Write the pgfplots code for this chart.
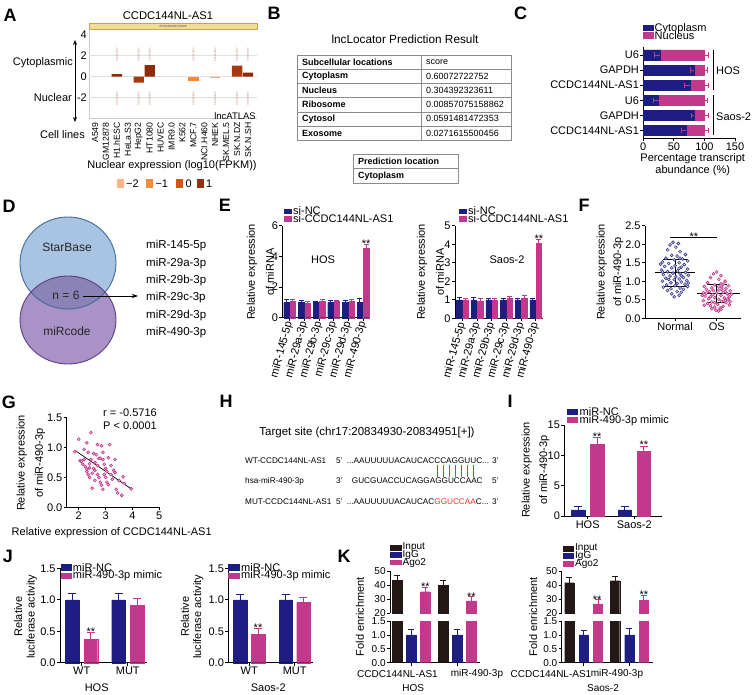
\documentclass[border=0pt]{standalone}
\usepackage{fontspec}
\setmainfont{Liberation Sans}
\usepackage{pgfplots}
\pgfplotsset{compat=1.18}
\usetikzlibrary{arrows.meta}
\definecolor{nv}{HTML}{1E1E82}
\definecolor{mg}{HTML}{C2398C}
\definecolor{bk}{HTML}{231815}
\definecolor{rd}{HTML}{E8372E}
\definecolor{aa}{HTML}{8E2A0A}
\definecolor{ab}{HTML}{A8380E}
\definecolor{ac}{HTML}{F5883B}
\definecolor{ad}{HTML}{F9A469}
\definecolor{la}{HTML}{FBB584}
\definecolor{lb}{HTML}{F68B3C}
\definecolor{lc}{HTML}{D9530F}
\definecolor{ld}{HTML}{992E0C}
\definecolor{vb}{HTML}{A8C4E2}
\definecolor{vbe}{HTML}{3F6B9A}
\definecolor{vp}{HTML}{A993C6}
\definecolor{vpe}{HTML}{5E3F7F}
\definecolor{vo}{HTML}{8B82B8}
\definecolor{tn}{HTML}{F2DC96}
\definecolor{tne}{HTML}{C9A352}
\newcommand{\fs}{\fontsize{11}{12}\selectfont}
\newcommand{\fk}{\fontsize{10}{11}\selectfont}
\newcommand{\fL}{\fontsize{18}{20}\selectfont\bfseries}
\newcommand{\fq}{\fontsize{8.2}{9}\selectfont}
\newcommand{\ft}{\fontsize{9}{10}\selectfont}
\pgfplotsset{
  pr/.style={scale only axis, anchor=south west,
    axis x line*=bottom, axis y line*=left,
    axis line style={line width=0.8pt, black},
    tick style={line width=0.8pt, black},
    tick align=outside, major tick length=3pt,
    ticklabel style={font=\fs, inner sep=1.2pt},
    /pgf/number format/assume math mode=true},
  ey/.style 2 args={/pgfplots/error bars/y dir=plus, /pgfplots/error bars/y explicit,
    /pgfplots/error bars/error bar style={#1, line width=0.8pt},
    /pgfplots/error bars/error mark options={rotate=90, #1, mark size=#2, line width=0.8pt}},
  ex/.style 2 args={/pgfplots/error bars/x dir=#1, /pgfplots/error bars/x explicit,
    /pgfplots/error bars/error bar style={mg, line width=0.8pt},
    /pgfplots/error bars/error mark options={rotate=90, mg, mark size=#2, line width=0.8pt}},
  bb/.style n args={3}{ybar, bar width=#1, bar shift=0pt, fill=#2, draw=#2, ey={#2}{#3}},
}
\begin{document}
\begin{tikzpicture}[x=1pt, y=-1pt, font=\fs]
\useasboundingbox (0,0) rectangle (753,695);
% ================= A =================
\node[font=\fL] at (10,15) {A};
\node[font=\fontsize{11.2}{12}\selectfont] at (168,16) {CCDC144NL-AS1};
\draw[fill=tn, draw=tne, line width=0.5pt] (89,23) rectangle (257,29.5);
\node[font=\fontsize{3}{3.5}\selectfont, text=black!70, inner sep=0] at (173,26.2) {ENSG00000233098};
\begin{axis}[pr, at={(89pt,-118pt)}, width=168pt, height=89pt,
  axis line style={gray!40, line width=0.6pt}, major tick length=0pt,
  xmin=-0.55, xmax=14.82, ymin=-3.93, ymax=4.54,
  ytick={-2,0,2,4}, yticklabels={-2,0,2,4},
  yticklabel style={inner sep=2pt},
  xtick={0,...,14},
  xticklabels={A549,GM12878,H1.hESC,HeLa.S3,HepG2,HT1080,HUVEC,IMR9.0,K562,MCF.7,NCI.H460,NHEK,SK.MEL.5,SK.N.DZ,SK.N.SH},
  xticklabel style={rotate=90, anchor=east, font=\fontsize{8.7}{10}\selectfont, xshift=-3pt},
  clip=false]
\draw[gray!25, line width=0.5pt] (axis cs:-0.55,2) -- (axis cs:14.82,2);
\draw[gray!25, line width=0.5pt] (axis cs:-0.55,0) -- (axis cs:14.82,0);
\draw[gray!25, line width=0.5pt] (axis cs:-0.55,-2) -- (axis cs:14.82,-2);
\addplot[ybar, bar width=10.3pt, bar shift=0pt, fill=aa, draw=none] coordinates {(2,0.25) (5,1.1) (14,0.38)};
\addplot[ybar, bar width=10.3pt, bar shift=0pt, fill=ab, draw=none] coordinates {(4,-0.57) (13,1.05)};
\addplot[ybar, bar width=10.3pt, bar shift=0pt, fill=ac, draw=none] coordinates {(9,-0.38)};
\addplot[ybar, bar width=10.3pt, bar shift=0pt, fill=ad, draw=none] coordinates {(11,-0.12)};
\end{axis}
\foreach \i in {2,4,5,9,11,13,14} {
  \node[rotate=90, font=\fontsize{2.6}{3}\selectfont, text=aa!60, inner sep=0] at ({95+10.93*\i},55) {0.00000000};
  \node[rotate=90, font=\fontsize{2.6}{3}\selectfont, text=aa!60, inner sep=0] at ({95+10.93*\i},99) {0.00000000};
}
\draw[{Stealth[length=5pt,width=4pt]}-{Stealth[length=5pt,width=4pt]}, line width=0.8pt] (75,40) -- (75,122);
\node[anchor=east, inner sep=0] at (73,63) {Cytoplasmic};
\node[anchor=east, inner sep=0] at (72,98) {Nuclear};
\node[anchor=east, inner sep=0] at (85,135) {Cell lines};
\node[anchor=east, inner sep=0, font=\fontsize{9.5}{10}\selectfont] at (256,116) {lncATLAS};
\node[inner sep=0] at (172,166) {Nuclear expression (log10(FPKM))};
\fill[la] (116.7,179.5) rectangle (124,188);
\node[anchor=west, inner sep=0] at (126,183.8) {−2};
\fill[lb] (146,179.5) rectangle (153.3,188);
\node[anchor=west, inner sep=0] at (155.3,183.8) {−1};
\fill[lc] (176,179.5) rectangle (183.3,188);
\node[anchor=west, inner sep=0] at (185.3,183.8) {0};
\fill[ld] (196.7,179.5) rectangle (204,188);
\node[anchor=west, inner sep=0] at (206,183.8) {1};
% ================= B =================
\node[font=\fL] at (274,13) {B};
\node[font=\fontsize{11.8}{13}\selectfont] at (405,39) {lncLocator Prediction Result};
\draw[black!45, line width=0.5pt] (297,55) rectangle (511,140.2);
\foreach \y in {69.2,83.4,97.6,111.8,126} {\draw[black!45, line width=0.5pt] (297,\y) -- (511,\y);}
\draw[black!45, line width=0.5pt] (421,55) -- (421,140.2);
\node[anchor=west, font=\ft\bfseries, inner sep=0] at (302,62.1) {Subcellular locations};
\node[anchor=west, font=\ft\bfseries, inner sep=0] at (302,76.3) {Cytoplasm};
\node[anchor=west, font=\ft\bfseries, inner sep=0] at (302,90.5) {Nucleus};
\node[anchor=west, font=\ft\bfseries, inner sep=0] at (302,104.7) {Ribosome};
\node[anchor=west, font=\ft\bfseries, inner sep=0] at (302,118.9) {Cytosol};
\node[anchor=west, font=\ft\bfseries, inner sep=0] at (302,133.1) {Exosome};
\node[anchor=west, font=\ft, inner sep=0] at (426,62.1) {score};
\node[anchor=west, font=\ft, inner sep=0] at (426,76.3) {0.60072722752};
\node[anchor=west, font=\ft, inner sep=0] at (426,90.5) {0.304392323611};
\node[anchor=west, font=\ft, inner sep=0] at (426,104.7) {0.00857075158862};
\node[anchor=west, font=\ft, inner sep=0] at (426,118.9) {0.0591481472353};
\node[anchor=west, font=\ft, inner sep=0] at (426,133.1) {0.0271615500456};
\draw[black!45, line width=0.5pt] (353,154) rectangle (458,183);
\draw[black!45, line width=0.5pt] (353,168.5) -- (458,168.5);
\node[anchor=west, font=\ft\bfseries, inner sep=0] at (358,161.2) {Prediction location};
\node[anchor=west, font=\ft\bfseries, inner sep=0] at (358,175.7) {Cytoplasm};
% ================= C =================
\node[font=\fL] at (520.5,13) {C};
\fill[nv] (643,25) rectangle (654,31.5);
\fill[mg] (643,32.5) rectangle (654,39);
\node[anchor=west, inner sep=0] at (654.5,28.3) {Cytoplasm};
\node[anchor=west, inner sep=0] at (654.5,36) {Nucleus};
\begin{axis}[pr, at={(643.3pt,-138pt)}, width=91.7pt, height=91pt,
  xmin=0, xmax=150, ymin=0.5, ymax=6.53, xtick={0,50,100,150},
  ytick={1,...,6}, yticklabels={CCDC144NL-AS1,GAPDH,U6,CCDC144NL-AS1,GAPDH,U6}, clip=false]
\addplot[xbar, bar width=10pt, bar shift=0pt, fill=mg, draw=mg, ex={plus}{2.6pt}]
  coordinates {(100,6) +- (6,0) (100,5) +- (5,0) (100,4) +- (6,0) (100,3) +- (5,0) (100,2) +- (6,0) (100,1) +- (7,0)};
\addplot[xbar, bar width=10pt, bar shift=0pt, fill=nv, draw=nv, ex={minus}{2.6pt}]
  coordinates {(27,6) +- (9,0) (83,5) +- (6,0) (76,4) +- (8,0) (25,3) +- (8,0) (83,2) +- (5,0) (70,1) +- (8,0)};
\end{axis}
\draw[line width=0.8pt] (713,50) -- (713,90.5);
\draw[line width=0.8pt] (713,95) -- (713,135);
\node[anchor=west, inner sep=0] at (716,71) {HOS};
\node[anchor=west, inner sep=0] at (716,117) {Saos-2};
\node[inner sep=0] at (692.7,159) {Percentage transcript};
\node[inner sep=0] at (692.7,171) {abundance (\%)};
% ================= D =================
\node[font=\fL] at (9,206) {D};
\fill[vb] (68,263) ellipse [x radius=48, y radius=46];
\fill[vp] (68,320) ellipse [x radius=48, y radius=44];
\begin{scope}
\clip (68,263) ellipse [x radius=48, y radius=46];
\fill[vo] (68,320) ellipse [x radius=48, y radius=44];
\end{scope}
\draw[vbe, line width=0.9pt] (68,263) ellipse [x radius=48, y radius=46];
\draw[vpe, line width=0.9pt] (68,320) ellipse [x radius=48, y radius=44];
\node[font=\fontsize{12}{13}\selectfont, text=black!85] at (67,247) {StarBase};
\node[font=\fontsize{12}{13}\selectfont, text=black!85] at (66,295) {n = 6};
\node[font=\fontsize{12}{13}\selectfont, text=black!85] at (67,331) {miRcode};
\draw[-{Stealth[length=6pt,width=4pt]}, line width=0.7pt] (83,296) -- (138,296);
\node[anchor=west, inner sep=0, font=\fontsize{11.5}{12}\selectfont] at (146,246) {miR-145-5p};
\node[anchor=west, inner sep=0, font=\fontsize{11.5}{12}\selectfont] at (146,263.5) {miR-29a-3p};
\node[anchor=west, inner sep=0, font=\fontsize{11.5}{12}\selectfont] at (146,281) {miR-29b-3p};
\node[anchor=west, inner sep=0, font=\fontsize{11.5}{12}\selectfont] at (146,298) {miR-29c-3p};
\node[anchor=west, inner sep=0, font=\fontsize{11.5}{12}\selectfont] at (146,315.5) {miR-29d-3p};
\node[anchor=west, inner sep=0, font=\fontsize{11.5}{12}\selectfont] at (146,333) {miR-490-3p};
% ================= E =================
\node[font=\fL] at (225,205) {E};
\begin{axis}[pr, at={(282.3pt,-317.7pt)}, width=88pt, height=92pt,
  xmin=-0.5, xmax=5.5, ymin=0, ymax=6, ytick={0,2,4,6}, xtick={0,...,5},
  xticklabels={miR-145-5p,miR-29a-3p,miR-29b-3p,miR-29c-3p,miR-29d-3p,miR-490-3p},
  xticklabel style={rotate=75, anchor=east}, clip=false]
\addplot[bb={5.4pt}{nv}{2.4pt}] coordinates {(-0.218,1.0) +- (0,0.2) (0.782,1.0) +- (0,0.15) (1.782,1.0) +- (0,0.08) (2.782,1.0) +- (0,0.12) (3.782,1.0) +- (0,0.1) (4.782,1.0) +- (0,0.25)};
\addplot[bb={5.4pt}{mg}{2.4pt}] coordinates {(0.218,1.05) +- (0,0.15) (1.218,0.95) +- (0,0.12) (2.218,1.05) +- (0,0.12) (3.218,1.05) +- (0,0.1) (4.218,1.05) +- (0,0.12) (5.218,4.5) +- (0,0.28)};
\node[anchor=base, inner sep=0, yshift=-3pt] at (axis cs:5.218,4.78) {**};
\end{axis}
\fill[nv] (284.3,209) rectangle (292.3,213.7);
\fill[mg] (284.3,215.7) rectangle (292.3,221.7);
\node[anchor=west, inner sep=0] at (293,210.5) {si-NC};
\node[anchor=west, inner sep=0] at (293,219) {si-CCDC144NL-AS1};
\node[inner sep=0] at (323,260) {HOS};
\node[rotate=90, inner sep=0] at (252,272) {Relative expression};
\node[rotate=90, inner sep=0] at (270,272) {of miRNA};
\begin{axis}[pr, at={(455pt,-318.3pt)}, width=88pt, height=92.6pt,
  xmin=-0.5, xmax=5.5, ymin=0, ymax=5, ytick={0,1,2,3,4,5}, xtick={0,...,5},
  xticklabels={miR-145-5p,miR-29a-3p,miR-29b-3p,miR-29c-3p,miR-29d-3p,miR-490-3p},
  xticklabel style={rotate=75, anchor=east}, clip=false]
\addplot[bb={5.4pt}{nv}{2.4pt}] coordinates {(-0.218,1.0) +- (0,0.12) (0.782,1.0) +- (0,0.12) (1.782,1.0) +- (0,0.08) (2.782,1.0) +- (0,0.08) (3.782,1.0) +- (0,0.07) (4.782,1.0) +- (0,0.1)};
\addplot[bb={5.4pt}{mg}{2.4pt}] coordinates {(0.218,0.97) +- (0,0.1) (1.218,0.92) +- (0,0.15) (2.218,0.97) +- (0,0.1) (3.218,1.07) +- (0,0.12) (4.218,1.1) +- (0,0.15) (5.218,4.05) +- (0,0.2)};
\node[anchor=base, inner sep=0, yshift=-3pt] at (axis cs:5.218,4.25) {**};
\end{axis}
\fill[nv] (459.3,209) rectangle (467.3,213.7);
\fill[mg] (459.3,215.7) rectangle (467.3,221.7);
\node[anchor=west, inner sep=0] at (468,210.5) {si-NC};
\node[anchor=west, inner sep=0] at (468,219) {si-CCDC144NL-AS1};
\node[inner sep=0] at (507,260) {Saos-2};
\node[rotate=90, inner sep=0] at (422,272) {Relative expression};
\node[rotate=90, inner sep=0] at (440,272) {of miRNA};
% ================= F =================
\node[font=\fL] at (584,205) {F};
\begin{axis}[pr, at={(645pt,-318.3pt)}, width=96pt, height=92.6pt,
  xmin=0.28, xmax=2.58, ymin=0, ymax=2.5, ytick={0,0.5,1,1.5,2,2.5},
  yticklabels={0.0,0.5,1.0,1.5,2.0,2.5}, xtick={1,2}, xticklabels={Normal,OS}, clip=false]
\addplot[only marks, mark=*, mark size=1.5pt, mark options={draw=nv!85, fill=nv!20, line width=0.6pt}] coordinates {
(0.95,2.05) (1.08,2.02) (0.88,1.98) (1.02,1.92) (0.82,1.85) (1.12,1.80) (1.25,1.72) (0.92,1.70) (1.05,1.68) (0.78,1.62) (1.18,1.60) (0.98,1.58) (1.30,1.55) (0.70,1.52) (1.10,1.50) (0.85,1.48) (1.22,1.45) (1.00,1.42) (0.75,1.40) (1.15,1.38) (0.92,1.36) (1.30,1.33) (0.68,1.30) (1.06,1.28) (0.82,1.26) (1.25,1.24) (0.95,1.22) (1.12,1.20) (0.72,1.18) (1.32,1.16) (0.88,1.14) (1.02,1.12) (1.20,1.10) (0.78,1.08) (1.10,1.06) (0.98,1.04) (1.28,1.02) (0.70,1.00) (1.15,0.98) (0.90,0.96) (1.05,0.94) (1.24,0.92) (0.80,0.90) (1.00,0.88) (1.30,0.86) (0.72,0.84) (1.12,0.82) (0.90,0.80) (1.20,0.78) (0.82,0.75) (1.05,0.72) (1.15,0.70) (0.92,0.66) (1.10,0.62) (0.98,0.58) (1.10,1.35) (0.70,1.25) (1.15,1.15) (1.32,0.95) (0.85,1.05) (0.65,1.46) (1.12,1.62)};
\addplot[only marks, mark=*, mark size=1.5pt, mark options={draw=mg, fill=mg!30, line width=0.6pt}] coordinates {
(2.00,1.25) (1.92,1.20) (2.10,1.15) (1.85,1.10) (2.05,1.05) (2.20,1.00) (1.78,0.96) (2.10,0.93) (1.95,0.90) (2.28,0.88) (1.70,0.86) (2.12,0.84) (1.88,0.82) (2.22,0.80) (1.75,0.78) (2.05,0.76) (2.32,0.74) (1.82,0.72) (2.15,0.70) (1.68,0.69) (2.00,0.68) (2.25,0.66) (1.90,0.64) (2.10,0.62) (1.72,0.60) (2.30,0.58) (1.95,0.56) (2.18,0.55) (1.80,0.53) (2.05,0.51) (2.28,0.50) (1.68,0.48) (2.12,0.46) (1.88,0.44) (2.22,0.42) (1.78,0.40) (2.02,0.38) (2.30,0.36) (1.85,0.34) (2.15,0.32) (1.95,0.30) (2.08,0.28) (1.88,0.26) (2.10,0.24) (1.98,0.22) (2.04,0.20) (1.92,0.75) (2.35,0.65) (2.05,0.85) (2.32,0.45) (1.70,0.35) (2.20,0.72) (1.85,0.58) (1.65,0.62) (2.25,0.52) (2.12,0.78) (1.75,0.68) (1.95,0.42) (2.20,0.48) (2.15,0.92)};
\addplot[black, line width=1pt] coordinates {(0.52,1.23) (1.48,1.23)};
\addplot[black, line width=1pt] coordinates {(0.7,1.59) (1.3,1.59)};
\addplot[black, line width=1pt] coordinates {(0.7,0.87) (1.3,0.87)};
\addplot[black, line width=1pt] coordinates {(1,0.87) (1,1.59)};
\addplot[black, line width=1pt] coordinates {(1.53,0.67) (2.55,0.67)};
\addplot[black, line width=1pt] coordinates {(1.76,0.92) (2.24,0.92)};
\addplot[black, line width=1pt] coordinates {(1.76,0.42) (2.24,0.42)};
\addplot[black, line width=1pt] coordinates {(2,0.42) (2,0.92)};
\draw[line width=0.8pt] (axis cs:0.88,2.18) -- (axis cs:2.0,2.18);
\node[anchor=base, inner sep=0, yshift=-3pt] at (axis cs:1.45,2.18) {**};
\end{axis}
\node[rotate=90, inner sep=0] at (601.7,272) {Relative expression};
\node[rotate=90, inner sep=0] at (618.3,272) {of miR-490-3p};
% ================= G =================
\node[font=\fL] at (9,402) {G};
\begin{axis}[pr, at={(66.7pt,-507.3pt)}, width=92.6pt, height=89.6pt,
  xmin=1.55, xmax=5, ymin=0, ymax=1.5, xtick={2,3,4,5}, ytick={0,0.5,1,1.5},
  yticklabels={0.0,0.5,1.0,1.5}, clip=false]
\addplot[only marks, mark=*, mark size=1.5pt, mark options={draw=mg, fill=mg!35, line width=0.6pt}] coordinates {
(1.85,0.93) (2.0,1.14) (2.2,0.97) (2.3,1.08) (2.45,1.25) (2.05,0.78) (2.1,0.77) (2.2,0.80) (2.25,0.68) (2.3,0.60) (2.35,0.92) (2.4,0.73) (2.45,0.80) (2.5,0.57) (2.55,0.65) (2.6,0.75) (2.65,0.88) (2.7,1.05) (2.75,0.82) (2.8,0.82) (2.85,1.03) (2.9,0.80) (2.35,0.55) (2.3,0.64) (2.4,0.50) (2.5,0.32) (2.6,0.45) (2.7,0.55) (2.75,0.50) (2.8,0.42) (2.85,0.37) (2.9,0.30) (2.95,0.72) (3.0,0.65) (3.05,0.42) (3.1,0.38) (3.1,0.83) (3.15,1.05) (3.2,0.70) (3.25,0.47) (3.3,0.62) (3.35,0.58) (3.4,0.30) (3.45,0.24) (3.35,0.80) (3.5,0.45) (3.6,0.20) (3.65,0.51) (3.7,0.40) (3.95,0.31) (2.15,0.72) (2.6,0.62) (2.9,0.92) (3.0,0.50) (2.7,0.70) (2.95,0.55) (3.2,0.55) (2.55,0.90) (2.4,0.66) (3.05,0.60)};
\addplot[black, line width=0.7pt] coordinates {(1.85,0.955) (3.95,0.31)};
\end{axis}
\node[inner sep=0] at (130,412.7) {r = -0.5716};
\node[inner sep=0] at (130,426) {P < 0.0001};
\node[rotate=90, inner sep=0] at (21.7,463) {Relative expression};
\node[rotate=90, inner sep=0] at (40,463) {of miR-490-3p};
\node[inner sep=0] at (111.7,533) {Relative expression of CCDC144NL-AS1};
% ================= H =================
\node[font=\fL] at (226,401) {H};
\node[font=\fontsize{11.5}{12}\selectfont, inner sep=0] at (367,433) {Target site (chr17:20834930-20834951[+])};
\node[font=\fq, anchor=base west, inner sep=0] at (245,463) {WT-CCDC144NL-AS1};
\node[font=\fq, anchor=base west, inner sep=0] at (336,463) {5'};
\node[font=\fq, anchor=base west, inner sep=0] at (346.7,463) {...AAUUUUUACAUCACCCAGGUUC...};
\node[font=\fq, anchor=base west, inner sep=0] at (492,463) {3'};
\node[font=\fq, anchor=base west, inner sep=0] at (245,483.7) {hsa-miR-490-3p};
\node[font=\fq, anchor=base west, inner sep=0] at (336,483.7) {3'};
\node[font=\fq, anchor=base west, inner sep=0] at (351.7,483.7) {GUCGUACCUCAGGAGGUCCAAC};
\node[font=\fq, anchor=base west, inner sep=0] at (492,483.7) {5'};
\node[font=\fq, anchor=base west, inner sep=0] at (245,504.7) {MUT-CCDC144NL-AS1};
\node[font=\fq, anchor=base west, inner sep=0] at (336,504.7) {5'};
\node[font=\fq, anchor=base west, inner sep=0] at (346.7,504.7) {...AAUUUUUACAUCAC\textcolor{rd}{GGUCCAA}C...};
\node[font=\fq, anchor=base west, inner sep=0] at (492,504.7) {3'};
\foreach \xx in {437.5,443.3,449.0,455.0,461.3,467.3,473.2} {\draw[rd, line width=0.7pt] (\xx,464.5) -- (\xx,476.5);}
% ================= I =================
\node[font=\fL] at (510,401) {I};
\begin{axis}[pr, at={(564.3pt,-516pt)}, width=97.4pt, height=91pt,
  xmin=-0.502, xmax=1.588, ymin=0, ymax=15, ytick={0,5,10,15},
  xtick={0,1}, xticklabels={HOS,Saos-2}, clip=false]
\addplot[bb={13.5pt}{nv}{4pt}] coordinates {(-0.204,1.0) +- (0,0.6) (0.796,1.0) +- (0,0.6)};
\addplot[bb={13.5pt}{mg}{4pt}] coordinates {(0.204,11.8) +- (0,1.1) (1.204,10.65) +- (0,0.9)};
\node[anchor=base, inner sep=0, yshift=-3pt] at (axis cs:0.204,12.9) {**};
\node[anchor=base, inner sep=0, yshift=-3pt] at (axis cs:1.204,11.55) {**};
\end{axis}
\fill[nv] (566.7,409.3) rectangle (578.3,415);
\fill[mg] (566.7,417.3) rectangle (578.3,423.3);
\node[anchor=west, inner sep=0] at (579.5,412) {miR-NC};
\node[anchor=west, inner sep=0] at (579.5,420.3) {miR-490-3p mimic};
\node[rotate=90, inner sep=0] at (526.7,470) {Relative expression};
\node[rotate=90, inner sep=0] at (544.3,470) {of miR-490-3p};
% ================= J =================
\node[font=\fL] at (8,556) {J};
\begin{axis}[pr, at={(60pt,-662.7pt)}, width=86.7pt, height=94.4pt,
  xmin=-0.47, xmax=1.41, ymin=0, ymax=1.5, ytick={0,0.5,1,1.5},
  yticklabels={0.0,0.5,1.0,1.5}, xtick={0,1}, xticklabels={WT,MUT}, clip=false]
\addplot[bb={13.7pt}{nv}{4pt}] coordinates {(-0.2,1.0) +- (0,0.1) (0.8,1.0) +- (0,0.1)};
\addplot[bb={13.7pt}{mg}{4pt}] coordinates {(0.2,0.376) +- (0,0.1) (1.2,0.916) +- (0,0.1)};
\node[anchor=base, inner sep=0, yshift=-3pt] at (axis cs:0.2,0.476) {**};
\end{axis}
\fill[nv] (60.7,564.3) rectangle (71.7,571);
\fill[mg] (60.7,572.7) rectangle (71.7,579.3);
\node[anchor=west, inner sep=0] at (72.7,567.5) {miR-NC};
\node[anchor=west, inner sep=0] at (72.7,576) {miR-490-3p mimic};
\node[rotate=90, inner sep=0] at (18.3,616.7) {Relative};
\node[rotate=90, inner sep=0] at (31.7,616.7) {luciferase activity};
\node[inner sep=0] at (96.7,688) {HOS};
\begin{axis}[pr, at={(228.3pt,-662.7pt)}, width=85pt, height=94.4pt,
  xmin=-0.46, xmax=1.41, ymin=0, ymax=1.5, ytick={0,0.5,1,1.5},
  yticklabels={0.0,0.5,1.0,1.5}, xtick={0,1}, xticklabels={WT,MUT}, clip=false]
\addplot[bb={13.5pt}{nv}{4pt}] coordinates {(-0.194,1.0) +- (0,0.08) (0.806,1.0) +- (0,0.09)};
\addplot[bb={13.5pt}{mg}{4pt}] coordinates {(0.194,0.456) +- (0,0.09) (1.194,0.96) +- (0,0.08)};
\node[anchor=base, inner sep=0, yshift=-3pt] at (axis cs:0.194,0.546) {**};
\end{axis}
\fill[nv] (228.3,564.3) rectangle (240,571);
\fill[mg] (228.3,572.7) rectangle (240,579.3);
\node[anchor=west, inner sep=0] at (241,567.5) {miR-NC};
\node[anchor=west, inner sep=0] at (241,576) {miR-490-3p mimic};
\node[rotate=90, inner sep=0] at (185,616.7) {Relative};
\node[rotate=90, inner sep=0] at (198.3,616.7) {luciferase activity};
\node[inner sep=0] at (268.3,688) {Saos-2};
% ================= K =================
\node[font=\fL] at (344,556) {K};
\begin{axis}[pr, at={(390pt,-662.7pt)}, width=89.8pt, height=41.7pt,
  ticklabel style={font=\fk},
  xmin=-0.463, xmax=1.49, ymin=0, ymax=1.5, ytick={0,0.5,1,1.5},
  yticklabels={0.0,0.5,1.0,1.5}, xtick={0,1}, xticklabels={,}]
\addplot[bb={9.3pt}{bk}{3pt}] coordinates {(-0.3045,43.6) +- (0,3.6) (0.6955,39.6) +- (0,3.5)};
\addplot[bb={9.3pt}{nv}{3pt}] coordinates {(0,1.0) +- (0,0.2) (1,1.0) +- (0,0.2)};
\addplot[bb={9.3pt}{mg}{3pt}] coordinates {(0.3045,35.3) +- (0,3.1) (1.3045,28.9) +- (0,3.1)};
\end{axis}
\begin{axis}[pr, at={(390pt,-613.3pt)}, width=89.8pt, height=42.3pt, axis x line=none,
  ticklabel style={font=\fk},
  xmin=-0.463, xmax=1.49, ymin=20, ymax=50, ytick={20,30,40,50}, xtick=\empty]
\addplot[bb={9.3pt}{bk}{3pt}] coordinates {(-0.3045,43.6) +- (0,3.6) (0.6955,39.6) +- (0,3.5)};
\addplot[bb={9.3pt}{mg}{3pt}] coordinates {(0.3045,35.3) +- (0,3.1) (1.3045,28.9) +- (0,3.1)};
\end{axis}
\node[anchor=base, inner sep=0, yshift=-3pt] at (425.3,587.9) {**};
\node[anchor=base, inner sep=0, yshift=-3pt] at (471.3,597.8) {**};
\fill[bk] (390,545) rectangle (401.7,550.7);
\fill[nv] (390,552.3) rectangle (401.7,557.7);
\fill[mg] (390,560) rectangle (401.7,565.3);
\node[anchor=west, inner sep=0, font=\fk] at (402.5,547) {Input};
\node[anchor=west, inner sep=0, font=\fk] at (402.5,554.8) {IgG};
\node[anchor=west, inner sep=0, font=\fk] at (402.5,562.7) {Ago2};
\node[rotate=90, inner sep=0] at (360,616.7) {Fold enrichment};
\node[inner sep=0, font=\fk] at (397.5,674) {CCDC144NL-AS1};
\node[inner sep=0, font=\fk] at (477,674) {miR-490-3p};
\node[inner sep=0, font=\fk] at (413.3,688) {HOS};
\begin{axis}[pr, at={(561.7pt,-662.7pt)}, width=91pt, height=41.7pt,
  ticklabel style={font=\fk},
  xmin=-0.48, xmax=1.51, ymin=0, ymax=1.5, ytick={0,0.5,1,1.5},
  yticklabels={0.0,0.5,1.0,1.5}, xtick={0,1}, xticklabels={,}]
\addplot[bb={9.3pt}{bk}{3pt}] coordinates {(-0.3127,41.7) +- (0,3.5) (0.6873,43.1) +- (0,3.1)};
\addplot[bb={9.3pt}{nv}{3pt}] coordinates {(0,1.0) +- (0,0.17) (1,1.0) +- (0,0.25)};
\addplot[bb={9.3pt}{mg}{3pt}] coordinates {(0.3127,26.6) +- (0,3.3) (1.3127,29.4) +- (0,3.6)};
\end{axis}
\begin{axis}[pr, at={(561.7pt,-613.3pt)}, width=91pt, height=42.3pt, axis x line=none,
  ticklabel style={font=\fk},
  xmin=-0.48, xmax=1.51, ymin=20, ymax=50, ytick={20,30,40,50}, xtick=\empty]
\addplot[bb={9.3pt}{bk}{3pt}] coordinates {(-0.3127,41.7) +- (0,3.5) (0.6873,43.1) +- (0,3.1)};
\addplot[bb={9.3pt}{mg}{3pt}] coordinates {(0.3127,26.6) +- (0,3.3) (1.3127,29.4) +- (0,3.6)};
\end{axis}
\node[anchor=base, inner sep=0, yshift=-3pt] at (597.2,600.6) {**};
\node[anchor=base, inner sep=0, yshift=-3pt] at (643.8,595.7) {**};
\fill[bk] (562.7,546) rectangle (574,551.7);
\fill[nv] (562.7,553.3) rectangle (574,559);
\fill[mg] (562.7,561) rectangle (574,566.7);
\node[anchor=west, inner sep=0, font=\fk] at (575,548) {Input};
\node[anchor=west, inner sep=0, font=\fk] at (575,555.8) {IgG};
\node[anchor=west, inner sep=0, font=\fk] at (575,563.7) {Ago2};
\node[rotate=90, inner sep=0] at (533.3,616.7) {Fold enrichment};
\node[inner sep=0, font=\fk] at (551,674) {CCDC144NL-AS1};
\node[inner sep=0, font=\fk] at (617,674) {miR-490-3p};
\node[inner sep=0, font=\fk] at (603,688) {Saos-2};
\end{tikzpicture}
\end{document}
